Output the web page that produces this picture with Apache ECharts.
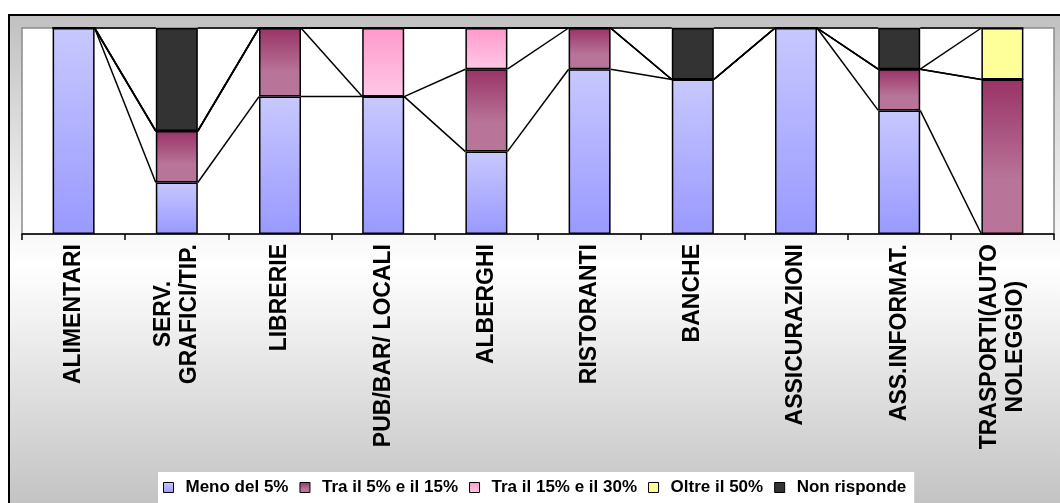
<!DOCTYPE html>
<html>
<head>
<meta charset="utf-8">
<script src="https://cdn.jsdelivr.net/npm/echarts@6/dist/echarts.min.js"></script>
<style>
  html, body { margin: 0; padding: 0; background: #fff; }
  #chart { width: 1060px; height: 503px; }
</style>
</head>
<body>
<div id="chart"></div>
<script>
// Sectors surveyed
const categories = [
  'ALIMENTARI', 'SERV.\nGRAFICI/TIP.', 'LIBRERIE', 'PUB/BAR/ LOCALI', 'ALBERGHI',
  'RISTORANTI', 'BANCHE', 'ASSICURAZIONI', 'ASS.INFORMAT.', 'TRASPORTI(AUTO\nNOLEGGIO)'
];

// Share of answers (%) per sector, one array per answer class
const menoDel5     = [100, 25, 66.7, 66.7, 40, 80, 75, 100, 60, 0];
const tra5e15      = [0, 25, 33.3, 0, 40, 20, 0, 0, 20, 75];
const tra15e30     = [0, 0, 0, 33.3, 20, 0, 0, 0, 0, 0];
const oltre50      = [0, 0, 0, 0, 0, 0, 0, 0, 0, 25];
const nonRisponde  = [0, 50, 0, 0, 0, 0, 25, 0, 20, 0];

const seriesNames = ['Meno del 5%', 'Tra il 5% e il 15%', 'Tra il 15% e il 30%', 'Oltre il 50%', 'Non risponde'];
const seriesValues = [menoDel5, tra5e15, tra15e30, oltre50, nonRisponde];

const FONT = "'Liberation Sans', Arial, sans-serif";
const BAR_W = 42;

function vGrad(stops) {
  return new echarts.graphic.LinearGradient(0, 0, 0, 1,
    stops.map(s => ({ offset: s[0], color: s[1] })));
}

const fills = [
  vGrad([[0, '#c8c8ff'], [1, '#9999ff']]),
  vGrad([[0, '#993366'], [0.65, '#b97499'], [1, '#b97499']]),
  vGrad([[0, '#ff99cc'], [1, '#ffc8e6']]),
  '#ffff99',
  '#333333'
];

// Running totals: top edge of each class in every column
const cumulative = seriesValues.map((_, s) =>
  categories.map((_, i) => {
    let t = 0;
    for (let k = 0; k <= s; k++) t += seriesValues[k][i];
    return t;
  })
);

const barSeries = seriesNames.map((name, s) => ({
  name,
  type: 'bar',
  stack: 'tot',
  barWidth: BAR_W,
  data: seriesValues[s],
  itemStyle: { color: fills[s], borderColor: '#000', borderWidth: 1.5 },
  emphasis: { disabled: true },
  z: 2
}));

// Series lines joining the top of each class between neighbouring columns
const seriesLines = {
  type: 'custom',
  z: 3,
  silent: true,
  data: categories.slice(0, -1).map((_, i) => [i, 0]),
  encode: { x: 0, y: 1 },
  renderItem(params, api) {
    const i = params.dataIndex;
    const half = BAR_W / 2;
    const children = cumulative.map(cum => {
      const a = api.coord([i, cum[i]]);
      const b = api.coord([i + 1, cum[i + 1]]);
      return {
        type: 'line',
        shape: { x1: a[0] + half, y1: a[1], x2: b[0] - half, y2: b[1] },
        style: { stroke: '#000', lineWidth: 1.5 }
      };
    });
    return { type: 'group', children };
  }
};

const FRAME = { x: 8, y: 14, w: 1060, h: 500 };

const chart = echarts.init(document.getElementById('chart'), null, { renderer: 'canvas' });

chart.setOption({
  animation: false,
  backgroundColor: '#ffffff',
  graphic: {
    elements: [
      {
        // chart area backdrop: grey at the top, white in the middle, grey at the bottom
        type: 'rect', silent: true, z: -10,
        left: FRAME.x, top: FRAME.y,
        shape: { x: 0, y: 0, width: FRAME.w, height: FRAME.h },
        style: {
          fill: vGrad([[0, '#c0c0c0'], [0.5, '#ffffff'], [1, '#c0c0c0']]),
          stroke: '#000',
          lineWidth: 2
        }
      }
    ]
  },
  grid: {
    left: 22, top: 28, right: 6, bottom: 269,
    show: true,
    backgroundColor: '#ffffff',
    borderColor: '#8a8a8a',
    borderWidth: 1.5
  },
  legend: {
    data: seriesNames,
    top: 472,
    left: 158,
    padding: [7, 8, 30, 5],
    backgroundColor: '#ffffff',
    itemWidth: 10,
    itemHeight: 10,
    itemGap: 11,
    icon: 'rect',
    itemStyle: { borderColor: '#000', borderWidth: 1 },
    textStyle: {
      fontFamily: FONT, fontSize: 17, fontWeight: 'bold', color: '#000',
      padding: [0, 0, 0, 7]
    },
    selectedMode: false
  },
  xAxis: {
    type: 'category',
    data: categories,
    boundaryGap: true,
    axisLine: { lineStyle: { color: '#000', width: 1.5 } },
    axisTick: { show: true, length: 6, interval: 0, lineStyle: { color: '#000', width: 1.5 } },
    axisLabel: {
      interval: 0,
      rotate: 90,
      margin: 10,
      color: '#000',
      fontFamily: FONT,
      fontSize: 23,
      fontWeight: 'bold',
      formatter: v => v.split('\n').map(l => '{c|' + l + '}').join('\n'),
      rich: {
        c: {
          align: 'center',
          fontFamily: FONT,
          fontSize: 23,
          fontWeight: 'bold',
          color: '#000',
          lineHeight: 26
        }
      }
    }
  },
  yAxis: {
    type: 'value',
    min: 0,
    max: 100,
    show: false,
    splitLine: { show: false }
  },
  series: [...barSeries, seriesLines]
});
</script>
</body>
</html>
